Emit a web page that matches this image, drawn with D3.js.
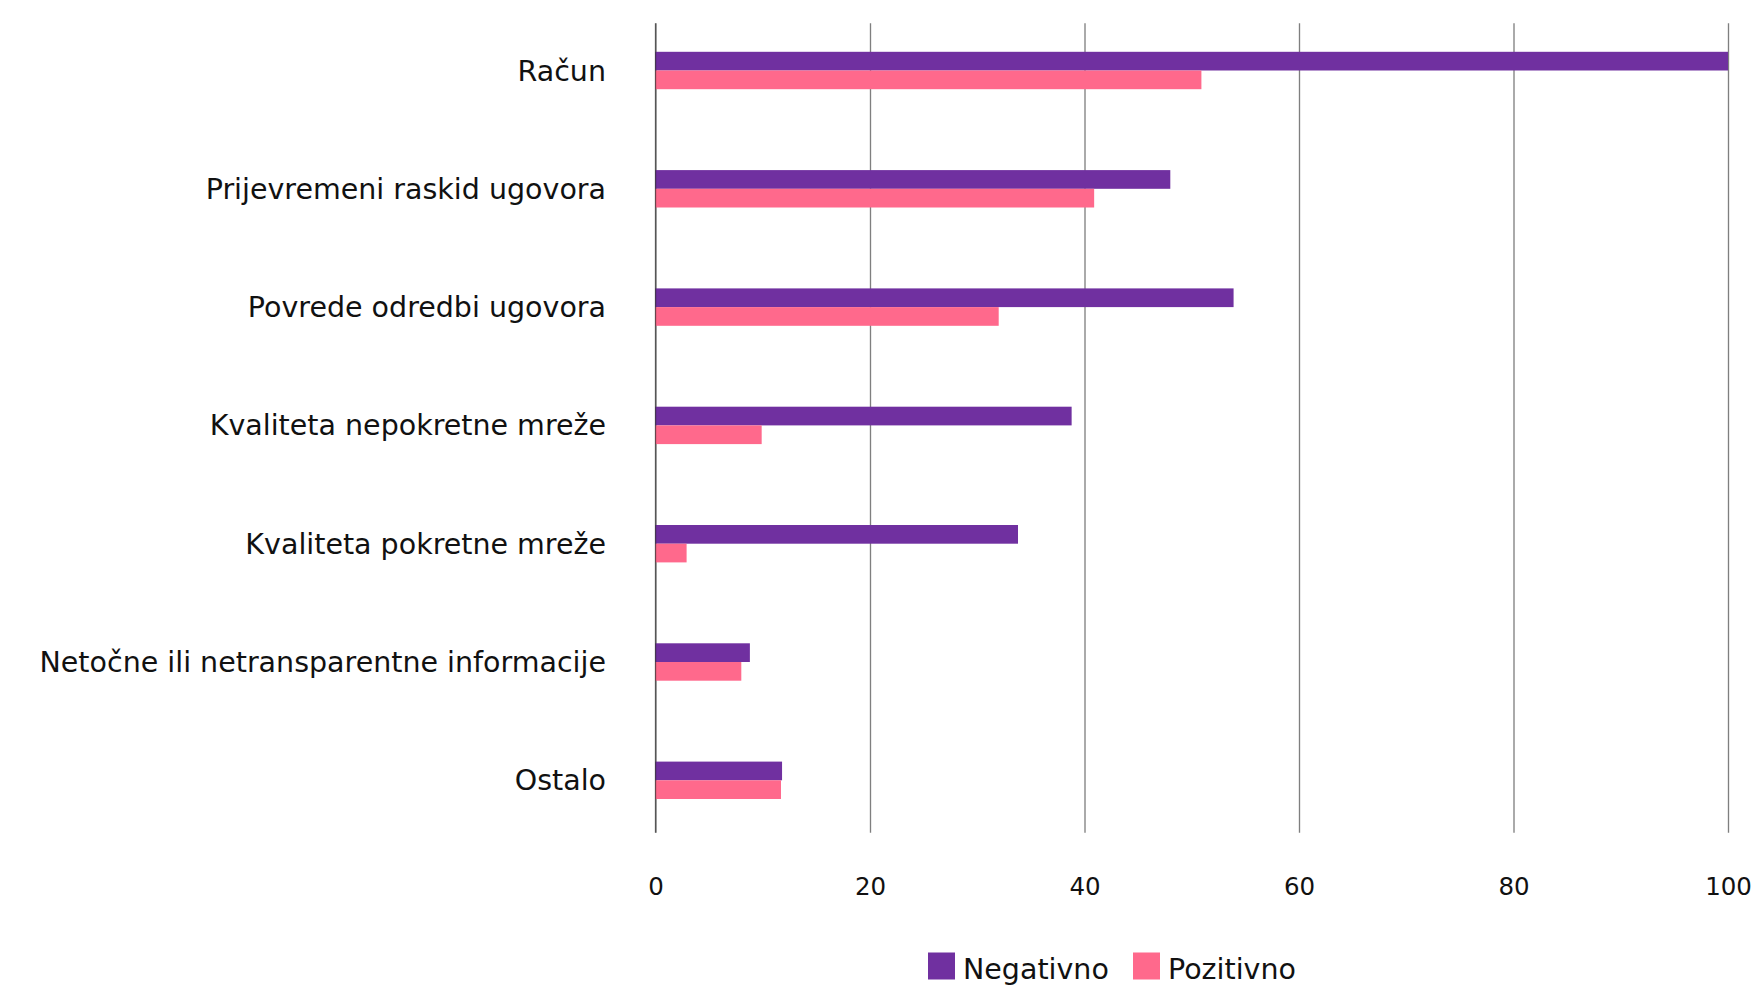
<!DOCTYPE html>
<html>
<head>
<meta charset="utf-8">
<script src="https://cdn.jsdelivr.net/npm/d3@7"></script>
<style>
  html, body { margin: 0; padding: 0; background: #fff; overflow: hidden; }
  svg { display: block; font-family: "DejaVu Sans", sans-serif; }
</style>
</head>
<body>
<svg id="chart" width="1752" height="986"></svg>
<script>
const categories = [
  "Račun",
  "Prijevremeni raskid ugovora",
  "Povrede odredbi ugovora",
  "Kvaliteta nepokretne mreže",
  "Kvaliteta pokretne mreže",
  "Netočne ili netransparentne informacije",
  "Ostalo"
];
const seriesNames = ["Negativno", "Pozitivno"];
const negativno = [100, 48, 53.9, 38.8, 33.8, 8.8, 11.8];
const pozitivno = [50.9, 40.9, 32, 9.9, 2.9, 8, 11.7];
const tickValues = [0, 20, 40, 60, 80, 100];
const colors = ["#7030A0", "#FF698C"];

const rows = categories.map((c, i) => ({ cat: c, values: [negativno[i], pozitivno[i]] }));

const svg = d3.select("#chart");
const gridTop = 23.3, gridBottom = 832.7;

const x = d3.scaleLinear().domain([0, 100]).range([655.5, 1728]);
const y0 = d3.scaleBand().domain(categories).range([11.35, 839.45]).padding(0);
const groupH = 37.4;
const y1 = d3.scaleBand().domain(seriesNames).range([0, groupH]);
const color = d3.scaleOrdinal().domain(seriesNames).range(colors);

// gridlines + tick labels
const axis = d3.axisBottom(x)
  .tickValues(tickValues)
  .tickFormat(d3.format("d"))
  .tickSizeInner(-(gridBottom - gridTop))
  .tickSizeOuter(0)
  .tickPadding(45);
const gAxis = svg.append("g")
  .attr("transform", `translate(0,${gridBottom})`)
  .call(axis);
gAxis.select(".domain").remove();
gAxis.selectAll(".tick line")
  .attr("stroke", "#000").attr("stroke-opacity", 0.5).attr("stroke-width", 1.33);
gAxis.selectAll(".tick text")
  .attr("font-family", "DejaVu Sans, sans-serif")
  .attr("font-size", 24.5)
  .attr("fill", "#111");

// bars
const groups = svg.append("g").selectAll("g")
  .data(rows).join("g")
  .attr("transform", d => `translate(0,${y0(d.cat) + y0.bandwidth() / 2 - groupH / 2})`);
groups.selectAll("rect")
  .data(d => d.values.map((v, j) => ({ s: seriesNames[j], v })))
  .join("rect")
  .attr("x", x(0))
  .attr("y", d => y1(d.s))
  .attr("width", d => x(d.v) - x(0))
  .attr("height", y1.bandwidth())
  .attr("fill", d => color(d.s));

// zero line over bars
svg.append("line")
  .attr("x1", x(0)).attr("x2", x(0))
  .attr("y1", gridTop).attr("y2", gridBottom)
  .attr("stroke", "#000").attr("stroke-opacity", 0.5).attr("stroke-width", 1.33);

// category labels
svg.append("g").selectAll("text")
  .data(categories).join("text")
  .attr("x", 606)
  .attr("y", d => y0(d) + y0.bandwidth() / 2 + 10)
  .attr("text-anchor", "end")
  .attr("font-size", 28.5)
  .attr("fill", "#111")
  .text(d => d);

// legend
const legendItems = [
  { name: seriesNames[0], x: 928 },
  { name: seriesNames[1], x: 1133 }
];
const lg = svg.append("g").selectAll("g").data(legendItems).join("g")
  .attr("transform", d => `translate(${d.x},952.5)`);
lg.append("rect").attr("width", 27).attr("height", 27)
  .attr("fill", d => color(d.name));
lg.append("text").attr("x", 35).attr("y", 26.5)
  .attr("font-size", 28.5).attr("fill", "#111")
  .text(d => d.name);
</script>
</body>
</html>
